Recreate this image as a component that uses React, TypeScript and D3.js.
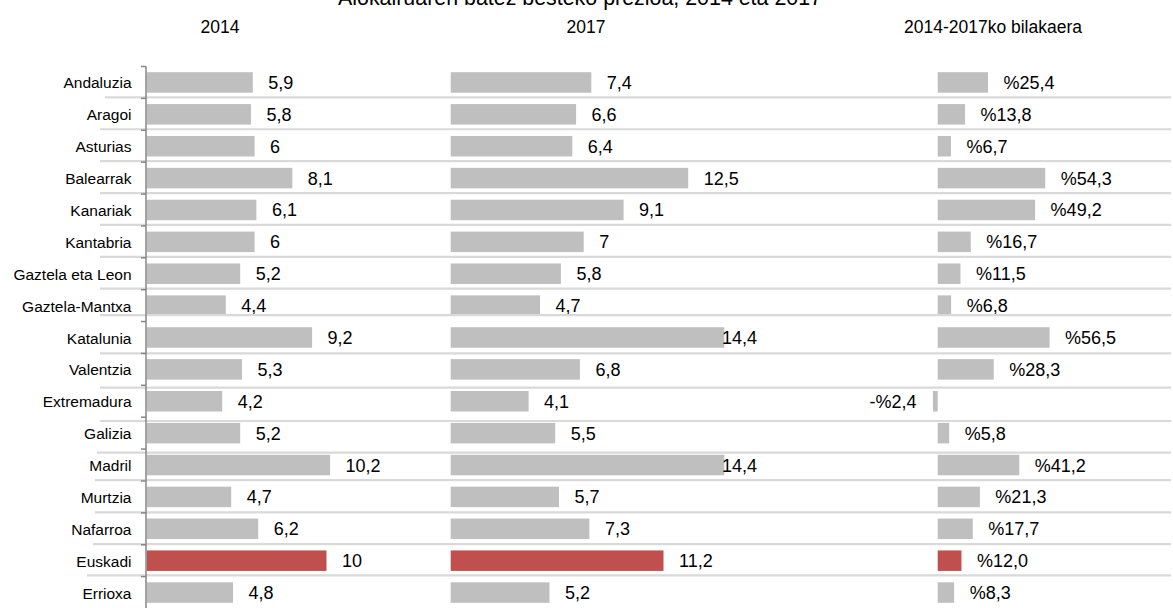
import React from 'react';
import * as d3 from 'd3';

const categories = [
  'Andaluzia', 'Aragoi', 'Asturias', 'Balearrak', 'Kanariak', 'Kantabria',
  'Gaztela eta Leon', 'Gaztela-Mantxa', 'Katalunia', 'Valentzia', 'Extremadura',
  'Galizia', 'Madril', 'Murtzia', 'Nafarroa', 'Euskadi', 'Errioxa',
];
const values2014 = [5.9, 5.8, 6, 8.1, 6.1, 6, 5.2, 4.4, 9.2, 5.3, 4.2, 5.2, 10.2, 4.7, 6.2, 10, 4.8];
const values2017 = [7.4, 6.6, 6.4, 12.5, 9.1, 7, 5.8, 4.7, 14.4, 6.8, 4.1, 5.5, 14.4, 5.7, 7.3, 11.2, 5.2];
const changePct = [25.4, 13.8, 6.7, 54.3, 49.2, 16.7, 11.5, 6.8, 56.5, 28.3, -2.4, 5.8, 41.2, 21.3, 17.7, 12.0, 8.3];
const highlighted = 'Euskadi';
const title = 'Alokairuaren batez besteko prezioa, 2014 eta 2017';
const panelHeaders = ['2014', '2017', '2014-2017ko bilakaera'];

// layout: small vertical shifts of the row separator lines relative to the band boundaries
const separatorShift = [-1, -1, -1, -1, -1, -1, -1, -6.5, 0, 2.4, 3.8, 3.6, -0.9, -0.5, -0.7, -1.3];
const separatorStart = [105, 100, 100, 100, 100, 100, 100, 100, 100, 100, 100, 97, 95, 95, 93, 87];

const FONT = '"Liberation Sans", Arial, sans-serif';
const GRAY = '#BFBFBF';
const RED = '#C0504D';
const SEP = '#D9D9D9';
const AXIS = '#868686';

const fmtVal = (v: number) => String(v).replace('.', ',');
const fmtPct = (v: number) => (v < 0 ? '-' : '') + '%' + Math.abs(v).toFixed(1).replace('.', ',');

export default function App() {
  const W = 1173;
  const H = 608;
  const y = d3.scaleBand<string>().domain(categories).range([66.5, 608.5]).padding(0);
  const bw = y.bandwidth();
  const barH = 20.5;
  const gap = 15.5;

  const x1 = d3.scaleLinear().domain([0, 10]).range([146.7, 326.5]);
  const x2 = d3.scaleLinear().domain([0, 10]).range([450.7, 640.7]);
  const x3 = d3.scaleLinear().domain([0, 50]).range([937.7, 1036.7]);
  const label2Max = 722;

  const axisX = 146;
  const sepX1 = 1171;

  const panels = [
    { scale: x1, values: values2014, fmt: fmtVal, headerX: 220, maxLabel: Infinity },
    { scale: x2, values: values2017, fmt: fmtVal, headerX: 586, maxLabel: label2Max },
    { scale: x3, values: changePct, fmt: fmtPct, headerX: 993, maxLabel: Infinity },
  ];

  return (
    <svg width={W} height={H} style={{ position: 'absolute', left: 0, top: 0, background: '#fff' }}
      fontFamily={FONT}>
      <rect x={0} y={0} width={W} height={H} fill="#fff" />
      <text x={580} y={5} fontSize={21.4} textAnchor="middle" fill="#000">{title}</text>
      {panels.map((p, i) => (
        <text key={'h' + i} x={p.headerX} y={33} fontSize={17.5} textAnchor="middle" fill="#000">
          {panelHeaders[i]}
        </text>
      ))}

      {/* category labels */}
      {categories.map((c) => (
        <text key={'c' + c} x={131.5} y={(y(c) as number) + bw / 2 + 6} fontSize={15.5}
          textAnchor="end" fill="#000">{c}</text>
      ))}

      {/* bars */}
      {panels.map((p, pi) => (
        <g key={'p' + pi}>
          {categories.map((c, i) => {
            const v = p.values[i];
            const x0 = p.scale(0);
            const xv = p.scale(v);
            const cy = (y(c) as number) + bw / 2;
            return (
              <rect key={c} x={Math.min(x0, xv)} y={cy - barH / 2} width={Math.abs(xv - x0)} height={barH}
                fill={c === highlighted ? RED : GRAY} />
            );
          })}
        </g>
      ))}

      {/* value labels */}
      {panels.map((p, pi) => (
        <g key={'l' + pi}>
          {categories.map((c, i) => {
            const v = p.values[i];
            const x0 = p.scale(0);
            const xv = p.scale(v);
            const cy = (y(c) as number) + bw / 2;
            const neg = v < 0;
            const lx = neg ? x0 - (Math.abs(xv - x0)) - gap - 1 : Math.min(xv + gap, p.maxLabel);
            return (
              <text key={c} x={lx} y={cy + 6.5} fontSize={18} textAnchor={neg ? 'end' : 'start'} fill="#000">
                {p.fmt(v)}
              </text>
            );
          })}
        </g>
      ))}

      {/* separators */}
      {categories.slice(1).map((c, i) => {
        const yy = (y(c) as number) + separatorShift[i];
        return <line key={'s' + c} x1={separatorStart[i]} x2={sepX1} y1={yy} y2={yy} stroke={SEP} strokeWidth={2.2} />;
      })}

      {/* axis */}
      <line x1={axisX} x2={axisX} y1={y.range()[0]} y2={y.range()[1]} stroke={AXIS} strokeWidth={1.5} />
      {categories.map((c) => {
        const yy = y(c) as number;
        return <line key={'t' + c} x1={axisX - 5} x2={axisX} y1={yy} y2={yy} stroke={AXIS} strokeWidth={1.5} />;
      })}
    </svg>
  );
}
